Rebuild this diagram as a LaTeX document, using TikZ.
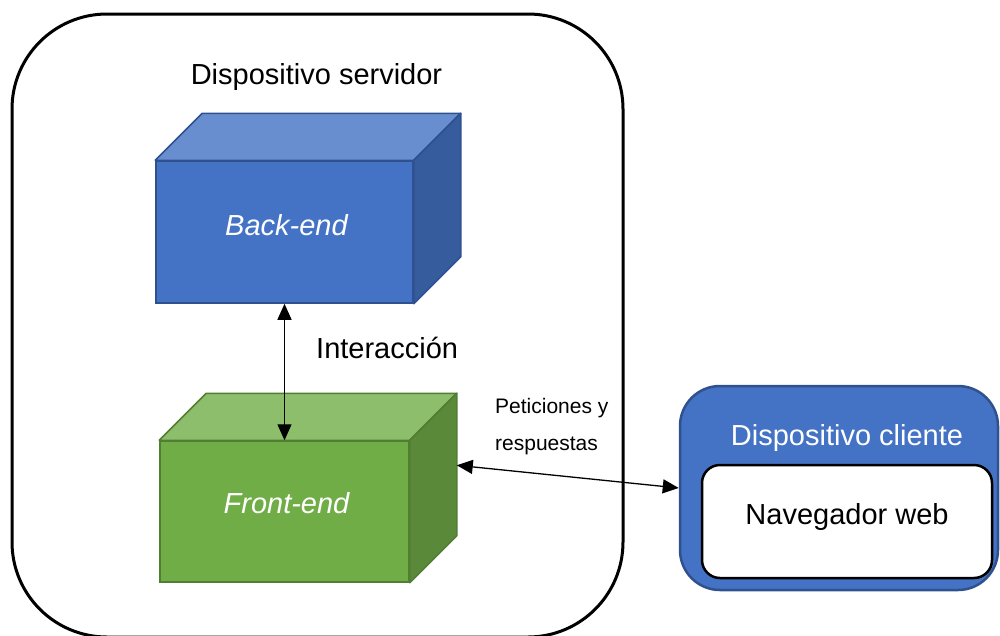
\documentclass[tikz,border=0pt]{standalone}
\usepackage{fontspec}
\setmainfont{Liberation Sans}
\usetikzlibrary{arrows.meta,calc}

\definecolor{blueFront}{HTML}{4472C4}
\definecolor{blueTop}{HTML}{698ED0}
\definecolor{blueSide}{HTML}{365C9E}
\definecolor{blueLine}{HTML}{2F528F}
\definecolor{greenFront}{HTML}{70AD47}
\definecolor{greenTop}{HTML}{8DBE6C}
\definecolor{greenSide}{HTML}{5A8A39}
\definecolor{greenLine}{HTML}{507E32}

\newcommand\bigtxt{\fontsize{29}{34}\selectfont}
\newcommand\smalltxt{\fontsize{21}{25}\selectfont}

\begin{document}
\begin{tikzpicture}[x=1pt,y=-1pt,
  face/.style={rectangle, inner sep=0pt, line width=1.5pt},
  facetext/.style={inner sep=0pt, text=white, font=\bigtxt\itshape},
  plaintext/.style={inner sep=0pt, font=\bigtxt},
  link/.style={line width=1.3pt, {Triangle[length=16pt,width=14pt]}-{Triangle[length=16pt,width=14pt]}}]
\useasboundingbox (0,0) rectangle (1000,635);
\clip (0,0) rectangle (1000,635);

% server device frame
\draw[line width=3pt, rounded corners=95pt] (12,14) rectangle (623,637);
\node[plaintext, anchor=base] (srvtitle) at (316.5,84.5) {Dispositivo servidor};

% back-end block
\node[face, fill=blueFront, draw=blueLine, minimum width=257pt, minimum height=142pt] (be) at (284.5,232) {};
\filldraw[fill=blueTop, draw=blueLine, line width=1.5pt, line join=round]
  (be.north west) -- ++(47,-47) -- ($(be.north east)+(47,-47)$) -- (be.north east) -- cycle;
\filldraw[fill=blueSide, draw=blueLine, line width=1.5pt, line join=round]
  (be.north east) -- ++(47,-47) -- ($(be.south east)+(47,-47)$) -- (be.south east) -- cycle;
\node[facetext] (belabel) at ([xshift=2pt,yshift=7pt]be.center) {Back-end};

% front-end block
\node[face, fill=greenFront, draw=greenLine, minimum width=249pt, minimum height=141pt] (fe) at (284.5,511.5) {};
\filldraw[fill=greenTop, draw=greenLine, line width=1.5pt, line join=round]
  (fe.north west) -- ++(47,-47) -- ($(fe.north east)+(47,-47)$) -- (fe.north east) -- cycle;
\filldraw[fill=greenSide, draw=greenLine, line width=1.5pt, line join=round]
  (fe.north east) -- ++(47,-47) -- ($(fe.south east)+(47,-47)$) -- (fe.south east) -- cycle;
\node[facetext] (felabel) at ([xshift=2pt,yshift=8pt]fe.center) {Front-end};
\coordinate (feport) at ($(fe.north east)+(47,25)$);

% client device
\node[rectangle, rounded corners=40pt, fill=blueFront, draw=blueLine, line width=2.5pt,
      minimum width=318pt, minimum height=204pt] (client) at (839,488) {};
\node[plaintext, text=white, anchor=base] (clienttitle) at (847,445) {Dispositivo cliente};
\node[rectangle, rounded corners=18pt, fill=white, draw=black, line width=2.5pt,
      minimum width=290pt, minimum height=113pt] (browser) at (847,521.5) {};
\node[plaintext, anchor=base] (browserlabel) at (847,524) {Navegador web};

% connectors
\draw[link] (be.south) -- (fe.north);
\node[plaintext, anchor=base west] (interlabel) at (316,358) {Interacción};
\draw[link] (feport) -- (client.west);
\node[inner sep=0pt, font=\smalltxt, anchor=base west] (reqlabel1) at (495,413) {Peticiones y};
\node[inner sep=0pt, font=\smalltxt, anchor=base west] (reqlabel2) at (495,450) {respuestas};
\end{tikzpicture}
\end{document}
